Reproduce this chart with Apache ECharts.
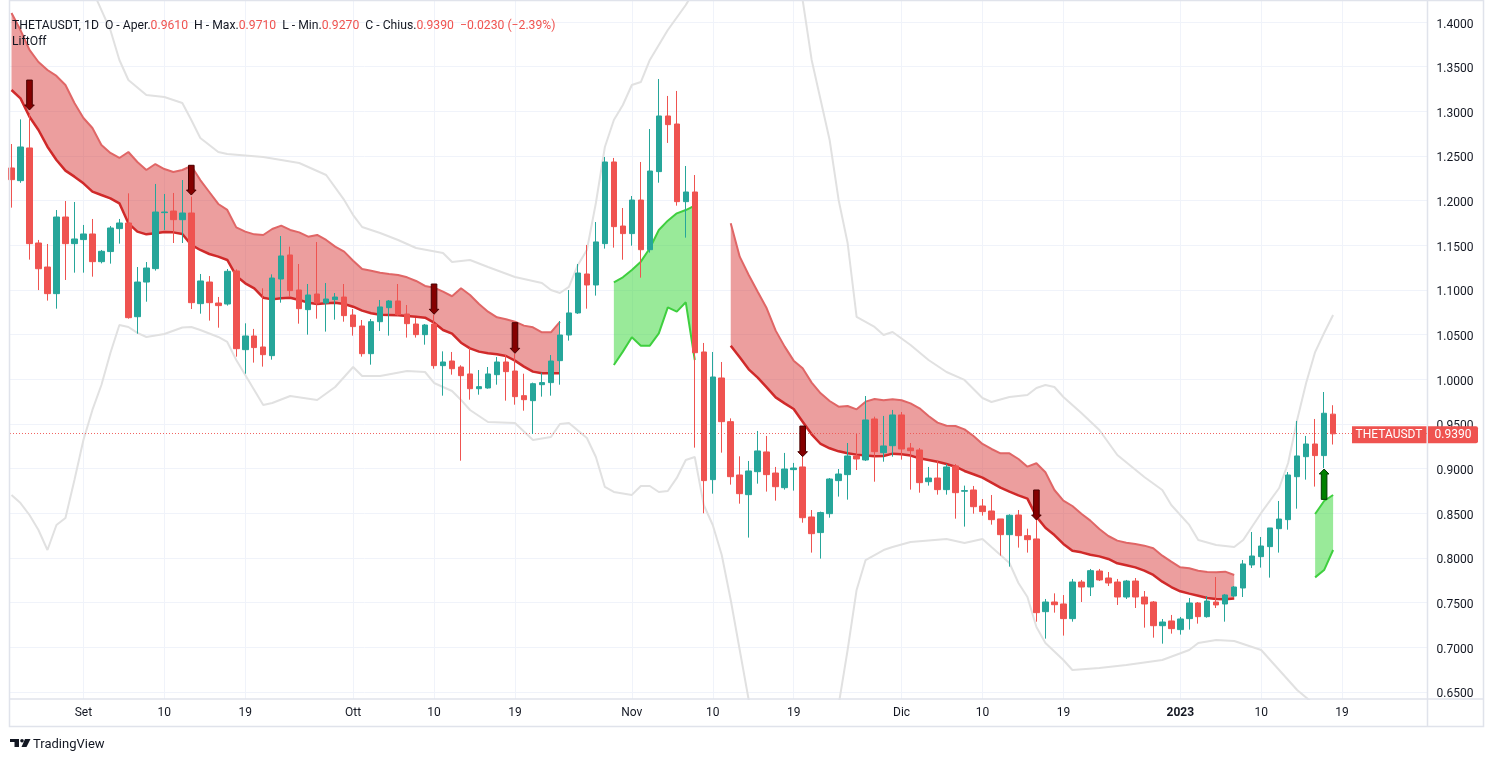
<!DOCTYPE html>
<html><head><meta charset="utf-8">
<script src="https://cdn.jsdelivr.net/npm/echarts@6/dist/echarts.min.js"></script>
<style>html,body{margin:0;padding:0;background:#fff}#c{width:1493px;height:762px}</style>
</head><body><div id="c"></div><script>
// ---------------- DATA ----------------
const symbolName = 'THETAUSDT';
const intervalName = '1D';
const indicatorName = 'LiftOff';
// daily candles from 2022-08-24 (index 0) to 2023-01-18 (index 147)
const open = [1.2366,1.2224,1.2590,1.1526,1.1257,1.0959,1.1817,1.1519,1.1564,1.1627,
1.1317,1.1430,1.1687,1.1750,1.0701,1.1089,1.1239,1.1866,1.1884,1.1787,
1.1862,1.0847,1.1089,1.0854,1.0843,1.1213,1.0332,1.0485,1.0362,1.0265,
1.1123,1.1392,1.1000,1.0780,1.0955,1.0854,1.0892,1.0921,1.0720,1.0597,
1.0287,1.0645,1.0802,1.0877,1.0731,1.0619,1.0500,1.0619,1.0153,1.0205,
1.0138,1.0060,0.9895,0.9903,1.0052,1.0194,1.0093,0.9817,0.9761,0.9940,
0.9963,1.0209,1.0496,1.0743,1.1179,1.1056,1.1519,1.2433,1.1716,1.1631,
1.2007,1.1451,1.2325,1.2948,1.2858,1.1989,1.2097,1.0306,0.8877,1.0015,
0.9526,0.8929,0.8709,0.8966,0.9187,0.8951,0.8787,0.8989,0.9019,0.8459,
0.8284,0.8496,0.8866,0.8933,0.9142,0.9097,0.9556,0.9179,0.9257,0.9601,
0.9231,0.9209,0.8854,0.8895,0.8765,0.9030,0.8747,0.8761,0.8582,0.8526,
0.8437,0.8261,0.8481,0.8250,0.8213,0.7399,0.7507,0.7485,0.7321,0.7731,
0.7675,0.7854,0.7776,0.7731,0.7563,0.7742,0.7563,0.7507,0.7242,0.7295,
0.7198,0.7321,0.7496,0.7343,0.7507,0.7485,0.7574,0.7664,0.7922,0.8015,
0.8127,0.8328,0.8429,0.8910,0.9134,0.9276,0.9146,0.9610];
const close = [1.2235,1.2601,1.1519,1.1238,1.0959,1.1817,1.1519,1.1571,1.1627,1.1317,
1.1433,1.1694,1.1750,1.0690,1.1089,1.1246,1.1873,1.1873,1.1787,1.1862,
1.0858,1.1101,1.0858,1.0825,1.1209,1.0343,1.0485,1.0355,1.0276,1.1134,
1.1381,1.0993,1.0791,1.0944,1.0854,1.0899,1.0921,1.0713,1.0590,1.0287,
1.0645,1.0810,1.0877,1.0724,1.0623,1.0500,1.0608,1.0153,1.0194,1.0119,
1.0041,0.9895,0.9918,1.0060,1.0194,1.0086,0.9806,0.9772,0.9951,0.9963,
1.0205,1.0496,1.0743,1.1190,1.1056,1.1538,1.2433,1.1709,1.1631,1.2007,
1.1451,1.2332,1.2948,1.2851,1.1989,1.2097,1.0298,0.8866,1.0026,0.9526,
0.8910,0.8720,0.8974,0.9198,0.8933,0.8798,0.8996,0.9007,0.8451,0.8272,
0.8508,0.8884,0.8940,0.9142,0.9108,0.9545,0.9190,0.9254,0.9601,0.9220,
0.9201,0.8843,0.8895,0.8765,0.9019,0.8731,0.8754,0.8574,0.8519,0.8429,
0.8261,0.8478,0.8250,0.8205,0.7388,0.7507,0.7477,0.7321,0.7731,0.7675,
0.7858,0.7754,0.7720,0.7563,0.7742,0.7563,0.7485,0.7242,0.7283,0.7209,
0.7317,0.7496,0.7343,0.7518,0.7474,0.7586,0.7675,0.7933,0.8022,0.8134,
0.8336,0.8436,0.8929,0.9142,0.9276,0.9146,0.9620,0.9390];
const high = [1.2634,1.2910,1.2980,1.1560,1.1515,1.1895,1.1996,1.1985,1.1728,1.1795,
1.1448,1.1716,1.1795,1.2082,1.1257,1.1313,1.2187,1.2075,1.2086,1.2231,
1.2045,1.1179,1.1156,1.0922,1.1235,1.1231,1.0627,1.0564,1.1019,1.1175,
1.1604,1.1485,1.1291,1.1067,1.1537,1.1078,1.0966,1.1067,1.0787,1.0664,
1.0675,1.0888,1.0888,1.1067,1.0832,1.0686,1.0619,1.0720,1.0313,1.0306,
1.0157,1.0351,1.0104,1.0138,1.0250,1.0273,1.0287,1.0063,0.9963,1.0075,
1.0272,1.0653,1.1000,1.1291,1.1504,1.1761,1.2489,1.2478,1.1918,1.2052,
1.2433,1.2802,1.3362,1.3172,1.3228,1.2388,1.2287,1.0407,1.0306,1.0194,
0.9563,0.9138,0.9086,0.9422,0.9366,0.9019,0.9176,0.9064,0.9131,0.8537,
0.8519,0.8895,0.8996,0.9287,0.9388,0.9813,0.9582,0.9590,0.9657,0.9634,
0.9287,0.9231,0.9019,0.9086,0.9052,0.9052,0.8810,0.8806,0.8660,0.8705,
0.8437,0.8489,0.8537,0.8328,0.8425,0.7541,0.7604,0.7585,0.7765,0.7754,
0.7877,0.7877,0.7843,0.7765,0.7754,0.7776,0.7630,0.7518,0.7317,0.7362,
0.7340,0.7552,0.7507,0.7574,0.7787,0.7597,0.7686,0.7977,0.8291,0.8235,
0.8336,0.8638,0.8962,0.9534,0.9366,0.9556,0.9858,0.9710];
const low = [1.1922,1.2200,1.1340,1.0999,1.0881,1.0791,1.1112,1.1194,1.1194,1.1149,
1.1298,1.1295,1.1519,1.0679,1.0511,1.0869,1.1217,1.1672,1.1526,1.1526,
1.0787,1.0735,1.0657,1.0578,1.0825,1.0254,1.0063,1.0187,1.0142,1.0220,
1.0858,1.0925,1.0623,1.0500,1.0679,1.0534,1.0668,1.0645,1.0489,1.0254,
1.0164,1.0541,1.0489,1.0713,1.0467,1.0467,1.0388,1.0119,0.9817,1.0052,
0.9089,0.9772,0.9828,0.9895,0.9940,0.9761,0.9716,0.9649,0.9388,0.9806,
0.9817,0.9940,1.0433,1.0732,1.0791,1.0937,1.1463,1.1474,1.1339,1.1496,
1.1138,1.1418,1.2201,1.2646,1.1944,1.1586,0.9235,0.8500,0.8720,0.9179,
0.8821,0.8608,0.8228,0.8832,0.8743,0.8642,0.8765,0.8754,0.8395,0.8060,
0.7993,0.8451,0.8687,0.8653,0.8985,0.9086,0.8854,0.9078,0.9134,0.9101,
0.8765,0.8731,0.8810,0.8709,0.8709,0.8440,0.8351,0.8496,0.8474,0.8373,
0.8026,0.7903,0.8116,0.8060,0.7287,0.7097,0.7388,0.7131,0.7287,0.7507,
0.7574,0.7742,0.7686,0.7474,0.7541,0.7440,0.7220,0.7108,0.7041,0.7153,
0.7142,0.7198,0.7265,0.7332,0.7440,0.7287,0.7563,0.7563,0.7888,0.7892,
0.7780,0.8060,0.8317,0.8552,0.8877,0.8799,0.9007,0.9270];

// time axis labels (candle index -> label)
const xTickIdx = [8,17,26,38,47,56,69,78,87,99,108,117,130,139,148];
const xTickLabels = ['Set','10','19','Ott','10','19','Nov','10','19','Dic','10','19','2023','10','19'];
const yTicks = [0.65,0.70,0.75,0.80,0.85,0.90,0.95,1.00,1.05,1.10,1.15,1.20,1.25,1.30,1.35,1.40];

// outer envelope (grey), [candle index, value]
const bandUpper = [[8,1.47],[9,1.4358],[11,1.3910],[12,1.3575],[13,1.3351],[15,1.3183],[17,1.3161],[19,1.3093],[20,1.2903],[21,1.2702],[23,1.2545],[24,1.2522],[28,1.2489],[32,1.2422],[35,1.2287],[37,1.2008],[38,1.1839],[39,1.1705],[41,1.1638],[43,1.1560],[45,1.1470],[48,1.1414],[49,1.1313],[51,1.1336],[53,1.1257],[56,1.1146],[59,1.1078],[60,1.1000],[61,1.0966],[62,1.1034],[63,1.1280],[64,1.1448],[65,1.1974],[66,1.2601],[67,1.2903],[68,1.3071],[69,1.3295],[70,1.3328],[71,1.3575],[73,1.3910],[75,1.4190],[76,1.4358],[80,1.52],[86,1.48],[88,1.4246],[89,1.3575],[91,1.2679],[92,1.2008],[93,1.1526],[94,1.0698],[96,1.0586],[97,1.0496],[98,1.0530],[100,1.0384],[102,1.0216],[104,1.0082],[106,0.9993],[108,0.9791],[109,0.9746],[111,0.9802],[113,0.9825],[114,0.9903],[115,0.9937],[116,0.9914],[117,0.9802],[119,0.9623],[121,0.9433],[123,0.9153],[126,0.8907],[128,0.8761],[129,0.8593],[131,0.8370],[132,0.8201],[134,0.8145],[136,0.8123],[137,0.8201],[139,0.8504],[141,0.8783],[142,0.9063],[143,0.9545],[144,0.9958],[145,1.0305],[146,1.0518],[147,1.0720]];
const bandLower = [[0,0.8705],[1,0.8615],[2,0.8481],[3,0.8313],[4,0.8089],[5,0.8369],[6,0.8448],[7,0.8873],[8,0.9321],[9,0.9657],[10,0.9936],[11,1.0295],[12,1.0608],[13,1.0586],[14,1.0519],[15,1.0474],[17,1.0507],[19,1.0580],[20,1.0586],[21,1.0552],[23,1.0474],[24,1.0418],[25,1.0216],[26,1.0049],[28,0.9713],[29,0.9735],[31,0.9813],[34,0.9769],[36,0.9914],[38,1.0138],[39,1.0037],[41,1.0037],[44,1.0093],[46,1.0082],[47,0.9959],[49,0.9869],[50,0.9769],[51,0.9657],[53,0.9522],[56,0.9511],[58,0.9321],[60,0.9354],[61,0.9500],[62,0.9511],[64,0.9343],[65,0.9130],[66,0.8795],[67,0.8739],[69,0.8706],[70,0.8806],[71,0.8806],[72,0.8739],[73,0.8750],[74,0.8896],[75,0.9097],[76,0.9130],[77,0.8593],[78,0.8369],[79,0.8033],[80,0.7530],[81,0.6970],[82,0.6410],[83,0.5739],[87,0.55],[92,0.6354],[93,0.6970],[94,0.7642],[95,0.7977],[97,0.8089],[98,0.8123],[100,0.8179],[104,0.8213],[106,0.8168],[108,0.8213],[109,0.8123],[111,0.7944],[112,0.7720],[113,0.7563],[114,0.7227],[115,0.7048],[117,0.6858],[118,0.6746],[121,0.6768],[124,0.6802],[128,0.6858],[131,0.6970],[132,0.7048],[134,0.7082],[136,0.7071],[138,0.7004],[139,0.6970],[141,0.6746],[143,0.6522],[145,0.6354],[147,0.6186]];

// LiftOff ribbons: start index + upper / lower edges
const red1Start = 0;
const red1Upper = [1.4101,1.3910,1.3687,1.3552,1.3463,1.3396,1.3295,1.3093,1.2925,1.2813,1.2623,1.2534,1.2478,1.2545,1.2433,1.2343,1.2410,1.2354,1.2321,1.2343,1.2388,1.2231,1.2097,1.1963,1.1896,1.1701,1.1653,1.1623,1.1616,1.1683,1.1720,1.1672,1.1645,1.1597,1.1616,1.1560,1.1485,1.1429,1.1328,1.1235,1.1216,1.1194,1.1179,1.1168,1.1142,1.1101,1.1045,1.1026,1.0981,1.0930,1.1019,1.0944,1.0843,1.0757,1.0694,1.0672,1.0645,1.0601,1.0582,1.0526,1.0526,1.0642];
const red1Lower = [1.3239,1.3145,1.2940,1.2791,1.2604,1.2455,1.2336,1.2269,1.2194,1.2101,1.2063,1.2026,1.1970,1.1746,1.1653,1.1623,1.1634,1.1649,1.1645,1.1627,1.1504,1.1448,1.1403,1.1373,1.1336,1.1157,1.1075,1.1019,1.0914,1.0895,1.0907,1.0914,1.0888,1.0858,1.0843,1.0851,1.0858,1.0843,1.0813,1.0769,1.0739,1.0724,1.0720,1.0716,1.0709,1.0701,1.0690,1.0634,1.0552,1.0511,1.0410,1.0347,1.0310,1.0291,1.0280,1.0261,1.0209,1.0142,1.0086,1.0067,1.0067,1.0067];
const green1Start = 67;
const green1Upper = [1.1086,1.1142,1.1224,1.1317,1.1467,1.1672,1.1776,1.1858,1.1895,1.1944];
const green1Lower = [1.0160,1.0310,1.0470,1.0377,1.0377,1.0515,1.0806,1.0758,1.0862,1.0216];
const red2Start = 80;
const red2Upper = [1.1746,1.1373,1.1168,1.0981,1.0795,1.0545,1.0366,1.0209,1.0123,0.9963,0.9843,0.9757,0.9694,0.9701,0.9664,0.9750,0.9780,0.9765,0.9776,0.9765,0.9731,0.9675,0.9589,0.9515,0.9481,0.9477,0.9440,0.9366,0.9276,0.9220,0.9172,0.9172,0.9108,0.9022,0.9060,0.8959,0.8761,0.8642,0.8582,0.8495,0.8418,0.8324,0.8246,0.8194,0.8171,0.8156,0.8138,0.8108,0.8026,0.7959,0.7895,0.7884,0.7858,0.7843,0.7839,0.7847,0.7810];
const red2Lower = [1.0377,1.0246,1.0112,1.0019,0.9910,0.9798,0.9731,0.9668,0.9526,0.9384,0.9276,0.9228,0.9194,0.9172,0.9157,0.9146,0.9138,0.9142,0.9168,0.9160,0.9146,0.9116,0.9097,0.9078,0.9052,0.9022,0.8974,0.8937,0.8899,0.8843,0.8787,0.8742,0.8701,0.8664,0.8463,0.8339,0.8257,0.8157,0.8082,0.8063,0.8037,0.8018,0.7989,0.7940,0.7918,0.7895,0.7858,0.7810,0.7735,0.7675,0.7627,0.7601,0.7578,0.7552,0.7541,0.7537,0.7545];
const green2Start = 145;
const green2Upper = [0.8492,0.8638,0.8705];
const green2Lower = [0.7783,0.7865,0.8089];

// signal arrows: candle index, tip value, tail value
const sellIdx = [2,20,47,56,88,114];
const sellTip = [1.3015,1.2063,1.0728,1.0291,0.9134,0.8425];
const sellTail = [1.3350,1.2396,1.1067,1.0634,0.9477,0.8761];
const buyIdx = [146];
const buyTip = [0.8996];
const buyTail = [0.8656];

// ---------------- CHART ----------------
const UP = '#26a69a', DOWN = '#ef5350', TXT = '#131722', FONT = 'Roboto, "Noto Sans", sans-serif';
const chart = echarts.init(document.getElementById('c'));
const n = close.length;
const candles = open.map((o, i) => [i, o, close[i], low[i], high[i]]);
const tickMap = {}; xTickIdx.forEach((v, k) => tickMap[v] = xTickLabels[k]);

function ribbon(start, up, lo, fill, upColor, upW, loColor, loW) {
  const d = up.map((u, k) => [start + k, lo[k], u]);
  return [
    { type: 'custom', data: d, encode: { x: 0, y: [1, 2] }, silent: true, z: 2, clip: true,
      renderItem: (params, api) => {
        if (params.dataIndexInside !== 0) return null;
        const top = d.map(p => api.coord([p[0], p[2]]));
        const bot = d.map(p => api.coord([p[0], p[1]])).reverse();
        return { type: 'polygon', shape: { points: top.concat(bot) }, style: { fill: fill } };
      } },
    { type: 'line', data: d.map(p => [p[0], p[2]]), showSymbol: false, silent: true, z: 3,
      lineStyle: { color: upColor, width: upW } },
    { type: 'line', data: d.map(p => [p[0], p[1]]), showSymbol: false, silent: true, z: 3,
      lineStyle: { color: loColor, width: loW } }
  ];
}
function arrows(idx, tip, tail, fill, stroke) {
  return { type: 'custom', z: 10, silent: true,
    data: idx.map((x, k) => [x, tip[k], tail[k]]), encode: { x: 0, y: [1, 2] },
    renderItem: (params, api) => {
      const t = api.coord([api.value(0), api.value(1)]);
      const b = api.coord([api.value(0), api.value(2)]);
      const dir = t[1] > b[1] ? 1 : -1;
      const x = t[0], hw = 2.8, hh = 4.8, hl = 5;
      const neck = t[1] - dir * hl;
      return { type: 'polygon', shape: { points: [[x - hw, b[1]], [x + hw, b[1]], [x + hw, neck], [x + hh, neck], [x, t[1]], [x - hh, neck], [x - hw, neck]] },
        style: { fill: fill, stroke: stroke, lineWidth: 1 } };
    } };
}

const series = [
  { type: 'line', data: bandUpper, showSymbol: false, silent: true, z: 1, lineStyle: { color: '#e1e1e1', width: 2 } },
  { type: 'line', data: bandLower, showSymbol: false, silent: true, z: 1, lineStyle: { color: '#e1e1e1', width: 2 } },
  ...ribbon(red1Start, red1Upper, red1Lower, 'rgba(214,48,48,0.47)', '#e06666', 2, '#d02a2a', 2.5),
  ...ribbon(red2Start, red2Upper, red2Lower, 'rgba(214,48,48,0.47)', '#e06666', 2, '#d02a2a', 2.5),
  ...ribbon(green1Start, green1Upper, green1Lower, 'rgba(60,215,60,0.52)', '#3fcf3f', 2, '#3fcf3f', 2),
  ...ribbon(green2Start, green2Upper, green2Lower, 'rgba(60,215,60,0.52)', '#3fcf3f', 2, '#3fcf3f', 2),
  { type: 'candlestick', data: candles, z: 5, barWidth: 6, silent: true,
    itemStyle: { color: UP, color0: DOWN, borderColor: UP, borderColor0: DOWN, borderWidth: 1 },
    markLine: { silent: true, symbol: ['none', 'none'], label: { show: false },
      lineStyle: { color: DOWN, type: [1, 2], width: 1, opacity: 0.9 },
      data: [{ yAxis: close[n - 1] }] } },
  arrows(sellIdx, sellTip, sellTail, '#850000', '#4a0000'),
  arrows(buyIdx, buyTip, buyTail, '#008000', '#003a00')
];

chart.setOption({
  animation: false,
  backgroundColor: '#ffffff',
  grid: { left: 10, right: 65.5, top: 1, bottom: 63, containLabel: false },
  xAxis: { type: 'value', min: -0.167, max: 157.5,
    axisLine: { show: false }, axisTick: { show: false, customValues: xTickIdx },
    splitLine: { show: true, lineStyle: { color: '#f0f3fa', width: 1 } },
    axisLabel: { customValues: xTickIdx, margin: 8, color: TXT, fontSize: 12, fontFamily: FONT,
      formatter: v => tickMap[v] === '2023' ? '{b|2023}' : (tickMap[v] || ''),
      rich: { b: { fontWeight: 'bold', color: TXT, fontSize: 12, fontFamily: FONT } } } },
  yAxis: { type: 'value', position: 'right', min: 0.64213, max: 1.42351, scale: true,
    axisLine: { show: false }, axisTick: { show: false, customValues: yTicks },
    splitLine: { show: true, lineStyle: { color: '#f0f3fa', width: 1 } },
    axisLabel: { customValues: yTicks, margin: 9, color: TXT, fontSize: 12, fontFamily: FONT,
      formatter: v => '{t|' + v.toFixed(4) + '}',
      rich: { t: { color: TXT, fontSize: 12, fontFamily: FONT, padding: [5, 0, 0, 0] } } } },
  series: series
});

// overlays placed through the chart's own scales
const lastY = chart.convertToPixel({ yAxisIndex: 0 }, close[n - 1]);
const chg = close[n - 1] - close[n - 2];
const pct = chg / close[n - 2] * 100;
const fmtS = v => (v < 0 ? '\u2212' : '+') + Math.abs(v).toFixed(4);
const hdrFont = '12.2px ' + FONT;
chart.setOption({ graphic: [
  // frame
  { type: 'rect', shape: { x: 9.5, y: 0.5, width: 1474, height: 726 }, style: { fill: 'none', stroke: '#e0e3eb', lineWidth: 1.5 }, z: 50, silent: true },
  { type: 'line', shape: { x1: 10, y1: 699, x2: 1484, y2: 699 }, style: { stroke: '#e0e3eb', lineWidth: 1.5 }, z: 50, silent: true },
  { type: 'line', shape: { x1: 1427.5, y1: 0, x2: 1427.5, y2: 727 }, style: { stroke: '#e0e3eb', lineWidth: 1.5 }, z: 50, silent: true },
  // last price labels
  { type: 'rect', shape: { x: 1352, y: lastY - 7.5, width: 74.5, height: 17 }, style: { fill: DOWN }, z: 60, silent: true },
  { type: 'text', x: 1389, y: lastY + 1, style: { text: symbolName, fill: '#fff', font: '12px ' + FONT, align: 'center', verticalAlign: 'middle' }, z: 61, silent: true },
  { type: 'rect', shape: { x: 1428, y: lastY - 7.5, width: 50, height: 17, r: [0, 2, 2, 0] }, style: { fill: DOWN }, z: 60, silent: true },
  { type: 'text', x: 1453, y: lastY + 1, style: { text: close[n - 1].toFixed(4), fill: '#fff', font: '12px ' + FONT, align: 'center', verticalAlign: 'middle' }, z: 61, silent: true },
  // header
  { type: 'text', x: 12, y: 25.5, z: 70, silent: true, style: { verticalAlign: 'middle', font: hdrFont, fill: TXT,
    text: symbolName + ', ' + intervalName + '  O - Aper.{v|' + open[n - 1].toFixed(4) + '}  H - Max.{v|' + high[n - 1].toFixed(4) +
      '}  L - Min.{v|' + low[n - 1].toFixed(4) + '}  C - Chius.{v|' + close[n - 1].toFixed(4) + '}  {v|' + fmtS(chg) + ' (' + (pct < 0 ? '\u2212' : '+') + Math.abs(pct).toFixed(2) + '%)}',
    rich: { v: { fill: DOWN, font: hdrFont } } } },
  { type: 'text', x: 12, y: 42, z: 70, silent: true, style: { text: indicatorName, verticalAlign: 'middle', font: hdrFont, fill: TXT } },
  // TradingView logo
  { type: 'rect', shape: { x: 10, y: 739, width: 9, height: 3 }, style: { fill: TXT }, silent: true },
  { type: 'rect', shape: { x: 14.5, y: 739, width: 4.5, height: 8 }, style: { fill: TXT }, silent: true },
  { type: 'circle', shape: { cx: 22, cy: 740.7, r: 1.8 }, style: { fill: TXT }, silent: true },
  { type: 'polygon', shape: { points: [[25, 739], [30.5, 739], [26.5, 747], [21.5, 747]] }, style: { fill: TXT }, silent: true },
  { type: 'text', x: 33, y: 744.5, style: { text: 'TradingView', verticalAlign: 'middle', font: '13px ' + FONT, fill: TXT }, silent: true }
] });
</script></body></html>
